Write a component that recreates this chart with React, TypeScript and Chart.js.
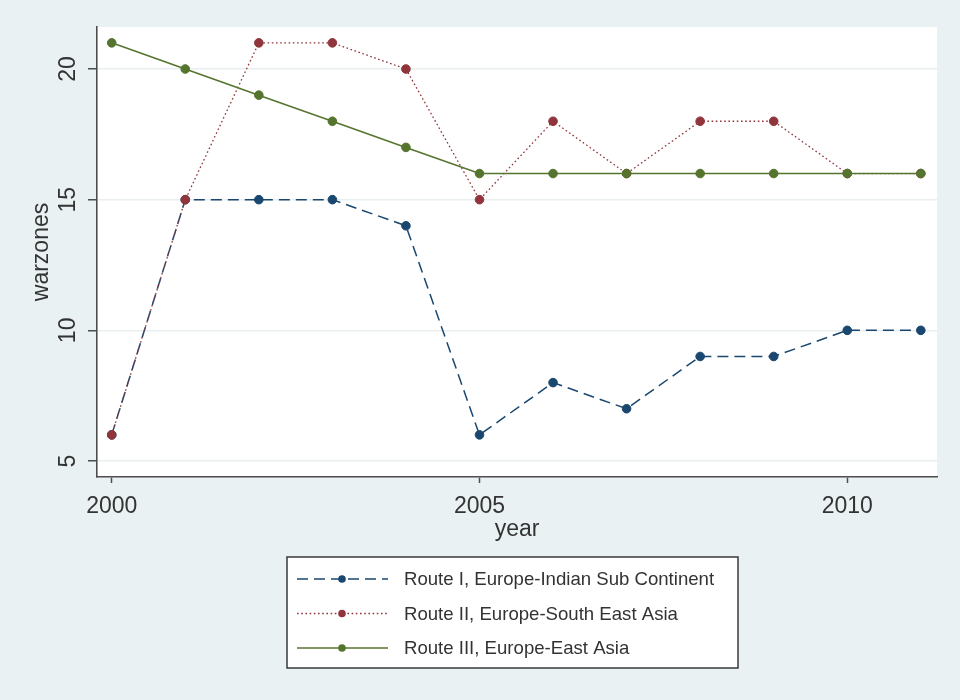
import { useEffect, useRef } from "react";
import { Chart, registerables } from "chart.js";

Chart.register(...registerables);

// Annual number of warzones crossed per shipping route
const years = [2000, 2001, 2002, 2003, 2004, 2005, 2006, 2007, 2008, 2009, 2010, 2011];
const routeI = [6, 15, 15, 15, 14, 6, 8, 7, 9, 9, 10, 10];
const routeII = [6, 15, 21, 21, 20, 15, 18, 16, 18, 18, 16, 16];
const routeIII = [21, 20, 19, 18, 17, 16, 16, 16, 16, 16, 16, 16];

const seriesNames = [
  "Route I, Europe-Indian Sub Continent",
  "Route II, Europe-South East Asia",
  "Route III, Europe-East Asia",
];

const xTickValues = [2000, 2005, 2010];
const yTickValues = [5, 10, 15, 20];

const FONT = '"Liberation Sans", Arial, Helvetica, sans-serif';
const TEXT = "#333333";
const AXIS = "#4d4d4d";
const BG = "#eaf1f3";

const toPoints = (vals: number[]) => vals.map((v, i) => ({ x: years[i], y: v }));

// Light page backdrop with a white plot region
const backdrop = {
  id: "backdrop",
  beforeDraw(chart: any) {
    const { ctx, chartArea } = chart;
    ctx.save();
    ctx.fillStyle = BG;
    ctx.fillRect(0, 0, chart.width, chart.height);
    ctx.fillStyle = "#ffffff";
    ctx.fillRect(chartArea.left, chartArea.top, chartArea.right - chartArea.left, chartArea.bottom - chartArea.top);
    ctx.restore();
  },
};

// Vertical y tick labels, reading bottom to top
const verticalYTicks = {
  id: "verticalYTicks",
  afterDraw(chart: any) {
    const { ctx } = chart;
    const y = chart.scales.y;
    ctx.save();
    ctx.fillStyle = TEXT;
    ctx.font = `23px ${FONT}`;
    ctx.textAlign = "center";
    ctx.textBaseline = "alphabetic";
    for (const v of yTickValues) {
      const py = y.getPixelForValue(v);
      ctx.save();
      ctx.translate(y.right - 22, py);
      ctx.rotate(-Math.PI / 2);
      ctx.fillText(String(v), 0, 0);
      ctx.restore();
    }
    ctx.restore();
  },
};

// Boxed legend below the plot, one row per series with line sample and marker
const boxedLegend = {
  id: "boxedLegend",
  afterDraw(chart: any) {
    const { ctx } = chart;
    const ds = chart.data.datasets;
    const box = { x: 287, y: 557, w: 451, h: 111 };
    ctx.save();
    ctx.fillStyle = "#ffffff";
    ctx.fillRect(box.x, box.y, box.w, box.h);
    ctx.strokeStyle = "#3a3a3a";
    ctx.lineWidth = 1.5;
    ctx.strokeRect(box.x, box.y, box.w, box.h);
    const rowGap = 34.5;
    ds.forEach((d: any, i: number) => {
      const cy = box.y + 22 + i * rowGap;
      ctx.save();
      ctx.strokeStyle = d.borderColor;
      ctx.lineWidth = d.borderWidth;
      ctx.setLineDash(d.borderDash || []);
      ctx.beginPath();
      ctx.moveTo(box.x + 10, cy);
      ctx.lineTo(box.x + 101, cy);
      ctx.stroke();
      ctx.setLineDash([]);
      ctx.fillStyle = d.pointBackgroundColor;
      ctx.beginPath();
      ctx.arc(box.x + 55, cy, 3.8, 0, Math.PI * 2);
      ctx.fill();
      ctx.restore();
      ctx.fillStyle = TEXT;
      ctx.font = `18.6px ${FONT}`;
      ctx.textAlign = "left";
      ctx.textBaseline = "middle";
      ctx.fillText(d.label, box.x + 117, cy + 1);
    });
    ctx.restore();
  },
};

export default function App() {
  const canvasRef = useRef<HTMLCanvasElement | null>(null);

  useEffect(() => {
    const canvas = canvasRef.current;
    if (!canvas) return;

    const colors = ["#1a476f", "#90353b", "#55752f"];
    const dashes = [[11, 6], [1.6, 2.6], []];
    const widths = [1.5, 1.3, 1.6];
    const values = [routeI, routeII, routeIII];

    const chart = new Chart(canvas, {
      type: "line",
      data: {
        datasets: values.map((vals, i) => ({
          label: seriesNames[i],
          data: toPoints(vals),
          borderColor: colors[i],
          backgroundColor: colors[i],
          pointBackgroundColor: colors[i],
          pointBorderColor: colors[i],
          pointBorderWidth: 1,
          pointRadius: 4.3,
          borderWidth: widths[i],
          borderDash: dashes[i],
          tension: 0,
          fill: false,
          order: 3 - i,
        })),
      },
      options: {
        responsive: false,
        animation: false,
        devicePixelRatio: 1,
        layout: { padding: { left: 0, top: 27, right: 23, bottom: 157 } },
        plugins: {
          legend: { display: false },
          tooltip: { enabled: false },
        },
        scales: {
          x: {
            type: "linear",
            min: 1999.8,
            max: 2011.22,
            afterBuildTicks: (scale: any) => {
              scale.ticks = xTickValues.map((v) => ({ value: v }));
            },
            afterFit: (scale: any) => {
              scale.height = 66;
            },
            grid: {
              drawOnChartArea: false,
              drawTicks: true,
              tickLength: 6,
              tickColor: AXIS,
              tickWidth: 1.5,
            },
            border: { display: true, color: AXIS, width: 1.6 },
            ticks: {
              padding: 10,
              color: TEXT,
              font: { family: FONT, size: 23 },
              maxRotation: 0,
              callback: (v: any) => String(v),
            },
            title: {
              display: true,
              text: "year",
              color: TEXT,
              font: { family: FONT, size: 23 },
              padding: { top: 0, bottom: 0 },
            },
          },
          y: {
            type: "linear",
            min: 4.388,
            max: 21.607,
            afterBuildTicks: (scale: any) => {
              scale.ticks = yTickValues.map((v) => ({ value: v }));
            },
            afterFit: (scale: any) => {
              scale.width = 97;
            },
            grid: {
              drawOnChartArea: true,
              color: "#e9eff1",
              lineWidth: 1.5,
              drawTicks: true,
              tickLength: 9,
              tickColor: AXIS,
              tickWidth: 1.5,
            },
            border: { display: true, color: AXIS, width: 1.6 },
            ticks: { display: false },
            title: {
              display: true,
              text: "warzones",
              color: TEXT,
              font: { family: FONT, size: 23 },
              padding: { top: 28, bottom: 0 },
            },
          },
        },
      },
      plugins: [backdrop, verticalYTicks, boxedLegend],
    });

    return () => chart.destroy();
  }, []);

  return (
    <div style={{ position: "absolute", left: 0, top: 0, width: 960, height: 700 }}>
      <canvas ref={canvasRef} width={960} height={700} style={{ display: "block" }} />
    </div>
  );
}
